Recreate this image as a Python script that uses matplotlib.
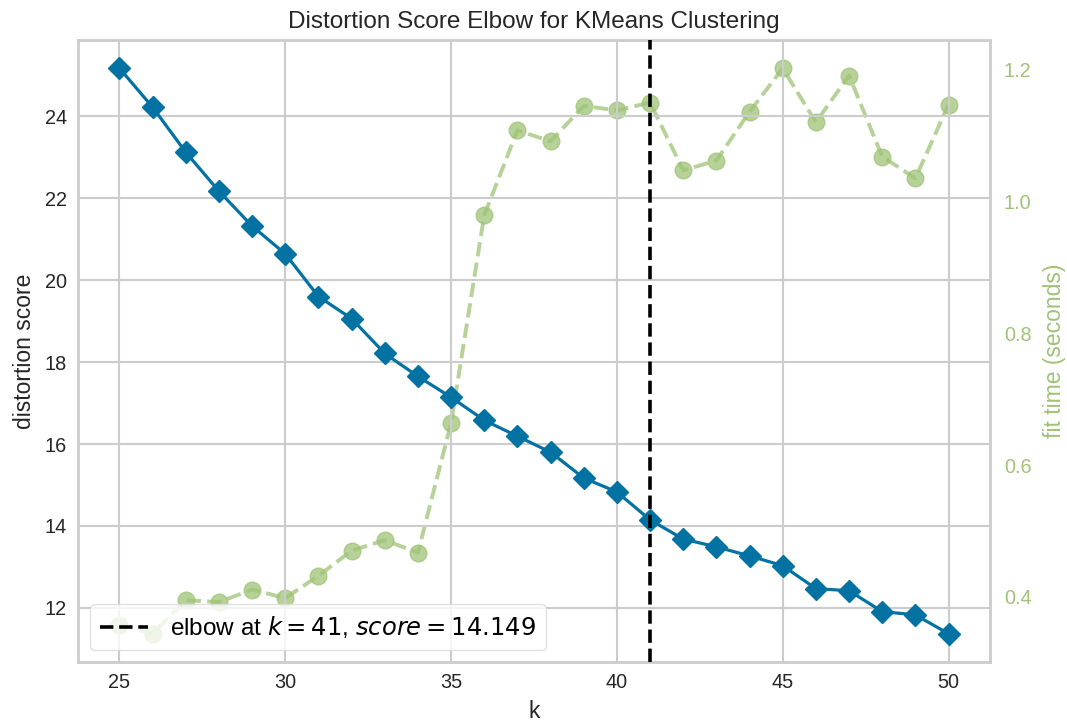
import matplotlib
matplotlib.use("Agg")
import matplotlib.pyplot as plt

k_values = list(range(25, 51))
distortion = [25.17, 24.22, 23.12, 22.17, 21.32, 20.64, 19.60, 19.06, 18.21, 17.65,
              17.14, 16.58, 16.19, 15.80, 15.17, 14.83, 14.149, 13.68, 13.49, 13.27,
              13.03, 12.47, 12.42, 11.91, 11.83, 11.37]
fit_time = [0.358, 0.344, 0.395, 0.392, 0.411, 0.398, 0.432, 0.470, 0.486, 0.467,
            0.664, 0.979, 1.108, 1.091, 1.145, 1.138, 1.150, 1.047, 1.062, 1.136,
            1.202, 1.120, 1.191, 1.068, 1.035, 1.147]
elbow_k = 41
elbow_score = 14.149

BLUE = "#0272a2"
GREEN = "#9fc377"

plt.rcParams["font.family"] = ["Liberation Sans", "DejaVu Sans"]
plt.rcParams["mathtext.fontset"] = "dejavusans"

fig = plt.figure(figsize=(10.67, 7.24), dpi=100)
ax = fig.add_axes([78/1067, 1-662/724, (990-78)/1067, (662-40)/724])

ax.set_facecolor("white")
for s in ax.spines.values():
    s.set_color("0.8")
    s.set_linewidth(2.0)
ax.grid(True, color="0.8", linewidth=1.5)
ax.set_axisbelow(True)

ax.plot(k_values, distortion, color=BLUE, marker="D", linewidth=2.3,
        markersize=11.5, zorder=3)
ax.axvline(elbow_k, color="black", linestyle="--", linewidth=2.6,
           label=f"elbow at $k={elbow_k}$, $score={elbow_score:0.3f}$", zorder=4)

ax.set_xticks([25, 30, 35, 40, 45, 50])
ax.set_yticks([12, 14, 16, 18, 20, 22, 24])
ax.tick_params(axis="both", length=0, labelsize=14.3, colors="#262626", pad=8)
ax.set_xlabel("k", fontsize=16.5, color="#262626", labelpad=6)
ax.set_ylabel("distortion score", fontsize=16.5, color="#262626", labelpad=6)
ax.set_title("Distortion Score Elbow for KMeans Clustering", fontsize=17.5,
             color="#262626", pad=9)

ax2 = ax.twinx()
ax2.plot(k_values, fit_time, color=GREEN, marker="o", linestyle="--",
         linewidth=2.8, markersize=12, alpha=0.75)
ax2.grid(False)
for s in ax2.spines.values():
    s.set_visible(False)
ax2.set_yticks([0.4, 0.6, 0.8, 1.0, 1.2])
ax2.tick_params(axis="y", length=0, labelsize=14.3, colors=GREEN, pad=10)
ax2.set_ylabel("fit time (seconds)", fontsize=16.5, color=GREEN, labelpad=8)

leg = ax.legend(loc="lower left", fontsize=17.5, frameon=True, framealpha=0.8,
                edgecolor="0.85", handlelength=2.0, borderpad=0.4,
                handletextpad=0.9)
leg.get_frame().set_linewidth(1.0)
ax2.patch.set_visible(True)
ax2.patch.set_facecolor("white")
ax.patch.set_visible(False)
ax2.set_zorder(0)
ax.set_zorder(1)

fig.savefig("out.png", dpi=100)
